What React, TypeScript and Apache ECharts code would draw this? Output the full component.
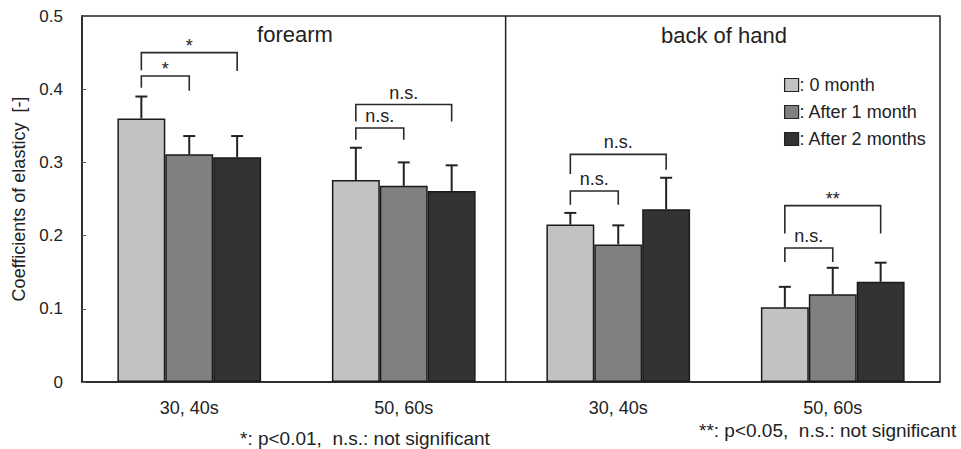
import React, { useEffect, useRef } from "react";
import * as echarts from "echarts";

// ---- data ----
const CATEGORIES = ["30, 40s", "50, 60s", "30, 40s", "50, 60s"];
const SERIES_NAMES = ["0 month", "After 1 month", "After 2 months"];
const MEAN_0 = [0.36, 0.276, 0.215, 0.102];
const MEAN_1 = [0.311, 0.268, 0.188, 0.12];
const MEAN_2 = [0.307, 0.261, 0.236, 0.137];
const SD_0 = [0.03, 0.044, 0.016, 0.028];
const SD_1 = [0.025, 0.032, 0.026, 0.036];
const SD_2 = [0.029, 0.035, 0.043, 0.026];
const Y_MIN = 0;
const Y_MAX = 0.5;
const Y_INTERVAL = 0.1;
const Y_NAME = "Coefficients of elasticy  [-]";
const PANEL_TITLES = ["forearm", "back of hand"];
const FOOTNOTES = ["*: p<0.01,  n.s.: not significant", "**: p<0.05,  n.s.: not significant"];

// significance brackets: category, bar from, bar to, top level, leg ends, label
const BRACKET_CAT = [0, 0, 1, 1, 2, 2, 3, 3];
const BRACKET_FROM = [0, 0, 0, 0, 0, 0, 0, 0];
const BRACKET_TO = [1, 2, 1, 2, 1, 2, 1, 2];
const BRACKET_TOP = [0.418, 0.45, 0.347, 0.379, 0.261, 0.311, 0.183, 0.241];
const BRACKET_LEFT_END = [0.402, 0.426, 0.331, 0.356, 0.242, 0.284, 0.164, 0.203];
const BRACKET_RIGHT_END = [0.398, 0.425, 0.331, 0.356, 0.242, 0.29, 0.164, 0.203];
const BRACKET_LABEL = ["*", "*", "n.s.", "n.s.", "n.s.", "n.s.", "n.s.", "**"];

// ---- styling ----
const COLORS = ["#c2c2c2", "#808080", "#333333"];
const FONT = "'Liberation Sans', Arial, sans-serif";
const GAP = 0.33;
const BAR_FRAC = (1 - GAP) / 3;
const PANEL_SPLIT = 1.975;

const MEANS = [MEAN_0, MEAN_1, MEAN_2];
const SDS = [SD_0, SD_1, SD_2];
const barCenter = (cat: number, k: number) => cat + 0.5 + (k - 1) * BAR_FRAC;

export default function App() {
  const ref = useRef<HTMLDivElement>(null);
  useEffect(() => {
    if (!ref.current) return;
    const chart = echarts.init(ref.current, null, { renderer: "svg" });

    const errData: number[][] = [];
    MEANS.forEach((m, k) =>
      m.forEach((v, i) => errData.push([barCenter(i, k), v, v + SDS[k][i]]))
    );
    const bracketData = BRACKET_CAT.map((c, j) => [
      barCenter(c, BRACKET_FROM[j]),
      BRACKET_TOP[j],
      barCenter(c, BRACKET_TO[j]),
      BRACKET_LEFT_END[j],
      BRACKET_RIGHT_END[j],
    ]);

    const option: any = {
      animation: false,
      textStyle: { fontFamily: FONT },
      grid: {
        left: 82,
        right: 21,
        top: 16,
        bottom: 67,
        show: true,
        borderColor: "#222",
        borderWidth: 1.5,
      },
      legend: {
        data: SERIES_NAMES,
        orient: "vertical",
        left: 779,
        top: 71,
        itemWidth: 14,
        itemHeight: 13,
        itemGap: 9,
        icon: "rect",
        formatter: ": {name}",
        itemStyle: { borderColor: "#222", borderWidth: 1.2 },
        textStyle: { fontSize: 18, color: "#222", fontFamily: FONT, padding: [0, 0, 0, -4] },
      },
      xAxis: [
        {
          type: "category",
          data: CATEGORIES,
          axisLine: { lineStyle: { color: "#222", width: 1.5 } },
          axisTick: { inside: true, length: 5, lineStyle: { color: "#555" } },
          axisLabel: { fontSize: 18, color: "#222", margin: 17, fontFamily: FONT },
          splitLine: { show: false },
        },
        { type: "value", min: 0, max: 4, show: false, splitLine: { show: false } },
      ],
      yAxis: {
        type: "value",
        min: Y_MIN,
        max: Y_MAX,
        interval: Y_INTERVAL,
        name: Y_NAME,
        nameLocation: "middle",
        nameGap: 53,
        nameTextStyle: { fontSize: 18, color: "#222", fontFamily: FONT },
        axisLine: { show: true, lineStyle: { color: "#222", width: 1.5 } },
        axisTick: { show: true, inside: true, length: 4, lineStyle: { color: "#555" } },
        axisLabel: { fontSize: 17, color: "#222", margin: 19, fontFamily: FONT },
        splitLine: { show: false },
      },
      series: [
        ...SERIES_NAMES.map((name, k) => ({
          name,
          type: "bar",
          data: MEANS[k],
          barGap: "0%",
          barCategoryGap: GAP * 100 + "%",
          itemStyle: { color: COLORS[k], borderColor: "#1a1a1a", borderWidth: 1.5 },
          z: 2,
        })),
        {
          name: "err",
          type: "custom",
          xAxisIndex: 1,
          yAxisIndex: 0,
          z: 3,
          data: errData,
          renderItem: (params: any, api: any) => {
            const x = api.value(0);
            const a = api.coord([x, api.value(1)]);
            const b = api.coord([x, api.value(2)]);
            const st = { stroke: "#222", lineWidth: 2 };
            return {
              type: "group",
              children: [
                { type: "line", shape: { x1: a[0], y1: a[1], x2: b[0], y2: b[1] }, style: st },
                { type: "line", shape: { x1: b[0] - 6, y1: b[1], x2: b[0] + 6, y2: b[1] }, style: st },
              ],
            };
          },
        },
        {
          name: "brackets",
          type: "custom",
          xAxisIndex: 1,
          yAxisIndex: 0,
          z: 4,
          data: bracketData,
          renderItem: (params: any, api: any) => {
            const x1 = api.value(0);
            const top = api.value(1);
            const x2 = api.value(2);
            const p1 = api.coord([x1, api.value(3)]);
            const p2 = api.coord([x1, top]);
            const p3 = api.coord([x2, top]);
            const p4 = api.coord([x2, api.value(4)]);
            const label = BRACKET_LABEL[params.dataIndex];
            const isStar = label.indexOf("*") >= 0;
            return {
              type: "group",
              children: [
                {
                  type: "polyline",
                  shape: { points: [p1, p2, p3, p4] },
                  style: { stroke: "#2a2a2a", lineWidth: 1.6, fill: "none" },
                },
                {
                  type: "text",
                  x: (p2[0] + p3[0]) / 2,
                  y: p2[1] + (isStar ? 2 : -3),
                  style: {
                    text: label,
                    align: "center",
                    verticalAlign: "bottom",
                    fontSize: 18,
                    fontFamily: FONT,
                    fill: "#222",
                  },
                },
              ],
            };
          },
        },
        {
          name: "divider",
          type: "line",
          xAxisIndex: 1,
          yAxisIndex: 0,
          symbol: "none",
          z: 5,
          lineStyle: { color: "#222", width: 1.5 },
          data: [
            [PANEL_SPLIT, Y_MIN],
            [PANEL_SPLIT, Y_MAX],
          ],
        },
      ],
      graphic: [
        {
          type: "text",
          x: 295,
          y: 34,
          style: { text: PANEL_TITLES[0], align: "center", verticalAlign: "middle", fontSize: 22, fontFamily: FONT, fill: "#222" },
        },
        {
          type: "text",
          x: 724,
          y: 35,
          style: { text: PANEL_TITLES[1], align: "center", verticalAlign: "middle", fontSize: 22, fontFamily: FONT, fill: "#222" },
        },
        {
          type: "text",
          x: 240,
          y: 438,
          style: { text: FOOTNOTES[0], align: "left", verticalAlign: "middle", fontSize: 19, fontFamily: FONT, fill: "#222" },
        },
        {
          type: "text",
          x: 699,
          y: 430,
          style: { text: FOOTNOTES[1], align: "left", verticalAlign: "middle", fontSize: 19, fontFamily: FONT, fill: "#222" },
        },
      ],
    };
    chart.setOption(option);
    return () => chart.dispose();
  }, []);
  return (
    <div
      ref={ref}
      style={{ position: "fixed", left: 0, top: 0, width: 961, height: 449, background: "#fff" }}
    />
  );
}
